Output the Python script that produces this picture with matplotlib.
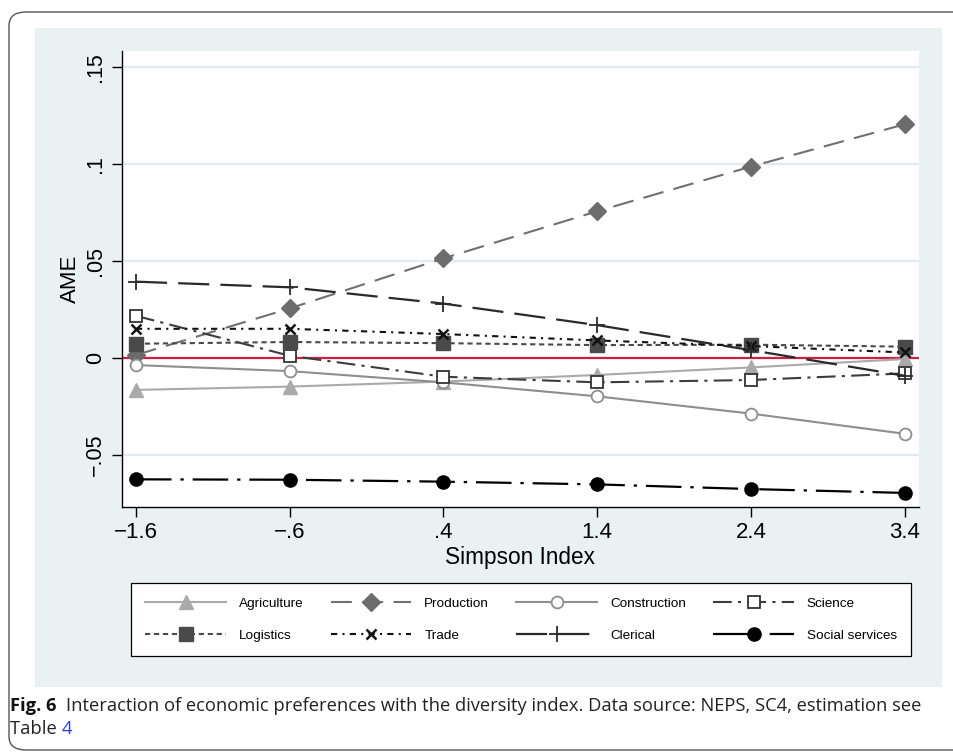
import matplotlib
matplotlib.use("Agg")
import matplotlib.pyplot as plt
from matplotlib.patches import FancyBboxPatch

# Simpson index values at which AMEs were evaluated
simpson = [-1.6, -0.6, 0.4, 1.4, 2.4, 3.4]
xtick_labels = ["\u22121.6", "\u2212.6", ".4", "1.4", "2.4", "3.4"]
yticks = [-0.05, 0.0, 0.05, 0.10, 0.15]
ytick_labels = ["\u2212.05", "0", ".05", ".1", ".15"]

# Average marginal effects per occupational field
agriculture = [-0.0166, -0.0149, -0.0123, -0.0089, -0.0050, -0.0007]
production = [0.0014, 0.0254, 0.0512, 0.0755, 0.0985, 0.1203]
construction = [-0.0038, -0.0069, -0.0127, -0.0199, -0.0288, -0.0392]
science = [0.0216, 0.0010, -0.0098, -0.0127, -0.0115, -0.0081]
logistics = [0.0072, 0.0081, 0.0075, 0.0065, 0.0067, 0.0057]
trade = [0.0149, 0.0149, 0.0122, 0.0089, 0.0060, 0.0027]
clerical = [0.0392, 0.0363, 0.0279, 0.0168, 0.0039, -0.0093]
social_services = [-0.0627, -0.0629, -0.0639, -0.0653, -0.0677, -0.0697]

W, H = 954, 753
plt.rcParams["font.family"] = ["Liberation Sans", "DejaVu Sans"]
fig = plt.figure(figsize=(W / 100, H / 100), dpi=100)


def fx(px):
    return px / W


def fy(py):
    return 1 - py / H


# outer frame of the figure box
frame = FancyBboxPatch((fx(9), fy(750)), fx(990) - fx(9), fy(12) - fy(750),
                       boxstyle="round,pad=0,rounding_size=0.018",
                       transform=fig.transFigure, fill=False,
                       edgecolor="#555555", linewidth=1.0, clip_on=False)
fig.patches.append(frame)

# light graph region (drawn in its own background axes)
bg = fig.add_axes([fx(35), fy(687), fx(942) - fx(35), fy(28) - fy(687)], zorder=0)
bg.set_facecolor("#e9f1f3")
bg.set_xticks([])
bg.set_yticks([])
for s in bg.spines.values():
    s.set_visible(False)

ax = fig.add_axes([fx(121.7), fy(506.7), fx(919) - fx(121.7), fy(51) - fy(506.7)], zorder=2)
ax.set_facecolor("white")
ax.set_xlim(-1.693, 3.494)
ax.set_ylim(-0.0768, 0.1581)

for y in [-0.05, 0.05, 0.10, 0.15]:
    ax.axhline(y, color="#e2ebef", lw=1.6, zorder=1)
ax.axhline(0, color="#cc1f45", lw=1.6, zorder=1.5)

series = [
    ("Agriculture", agriculture, dict(color="#aaaaaa", ls="-", marker="^", ms=10,
                                      mfc="#aaaaaa", mec="#aaaaaa", lw=1.5)),
    ("Production", production, dict(color="#707070", ls=(0, (10, 5)), marker="D", ms=9,
                                    mfc="#6c6c6c", mec="#6c6c6c", lw=1.5)),
    ("Construction", construction, dict(color="#8e8e8e", ls="-", marker="o", ms=8.5,
                                        mfc="white", mec="#8e8e8e", mew=1.3, lw=1.5)),
    ("Science", science, dict(color="#3c3c3c", ls=(0, (9, 3, 1.5, 3)), marker="s", ms=8.5,
                              mfc="white", mec="#333333", mew=1.3, lw=1.5)),
    ("Logistics", logistics, dict(color="#4a4a4a", ls=(0, (2.5, 1.8)), marker="s", ms=9.5,
                                  mfc="#4a4a4a", mec="#4a4a4a", lw=1.5)),
    ("Trade", trade, dict(color="#111111", ls=(0, (3, 2.5, 1, 2.5)), marker="x", ms=7.5,
                          mec="#111111", mew=1.8, lw=1.5)),
    ("Clerical", clerical, dict(color="#2a2a2a", ls=(0, (14, 5)), marker="+", ms=12,
                                mec="#2a2a2a", mew=1.3, lw=1.6)),
    ("Social services", social_services, dict(color="#000000", ls=(0, (16, 4, 1.5, 4)), marker="o",
                                              ms=9.5, mfc="black", mec="black", lw=1.6)),
]

handles = {}
for name, vals, kw in series:
    (h,) = ax.plot(simpson, vals, label=name, zorder=3, **kw)
    handles[name] = h

ax.spines["top"].set_visible(False)
ax.spines["right"].set_visible(False)
for s in ("left", "bottom"):
    ax.spines[s].set_color("black")
    ax.spines[s].set_linewidth(1.0)

ax.set_xticks(simpson)
ax.set_xticklabels(xtick_labels, fontsize=16)
ax.set_yticks(yticks)
ax.set_yticklabels(ytick_labels, fontsize=15.5, rotation=90, va="center")
ax.tick_params(axis="both", direction="out", length=7, width=1.0, color="black", pad=4)
ax.set_xlabel("Simpson Index", fontsize=16.3, labelpad=2)
ax.set_ylabel("AME", fontsize=16, labelpad=3)

# legend filled column-wise: arrange so rows read left to right
order = ["Agriculture", "Logistics", "Production", "Trade",
         "Construction", "Clerical", "Science", "Social services"]
leg = fig.legend([handles[n] for n in order], order, ncol=4,
                 loc="lower left",
                 bbox_to_anchor=(fx(131), fy(656), fx(911) - fx(131), fy(583) - fy(656)),
                 mode="expand", fontsize=9.7, handlelength=6.0, handletextpad=0.95,
                 numpoints=1, frameon=True, fancybox=False, borderaxespad=0,
                 labelspacing=1.45, borderpad=1.05, columnspacing=1.0)
leg.set_zorder(5)
leg.get_frame().set_edgecolor("black")
leg.get_frame().set_linewidth(0.9)
leg.get_frame().set_facecolor("white")
leg.get_frame().set_alpha(1)

# caption below the graph region
cap_font = ["Open Sans", "DejaVu Sans"]
cap_size = 13.2
t1 = fig.text(fx(10), fy(706), "Fig. 6", fontsize=cap_size, fontweight="bold",
              family=cap_font, va="center", ha="left", color="#111111")
fig.canvas.draw()
r = fig.canvas.get_renderer()
bb = t1.get_window_extent(r)
fig.text(bb.x1 / W + fx(9), fy(706),
         "Interaction of economic preferences with the diversity index. Data source: NEPS, SC4, estimation see",
         fontsize=cap_size, family=cap_font, va="center", ha="left", color="#222222")
t3 = fig.text(fx(10), fy(729), "Table ", fontsize=cap_size, family=cap_font,
              va="center", ha="left", color="#222222")
fig.canvas.draw()
bb3 = t3.get_window_extent(r)
fig.text(bb3.x1 / W, fy(729), "4", fontsize=cap_size, family=cap_font,
         va="center", ha="left", color="#2b3fd6")

fig.savefig("out.png", dpi=100)
